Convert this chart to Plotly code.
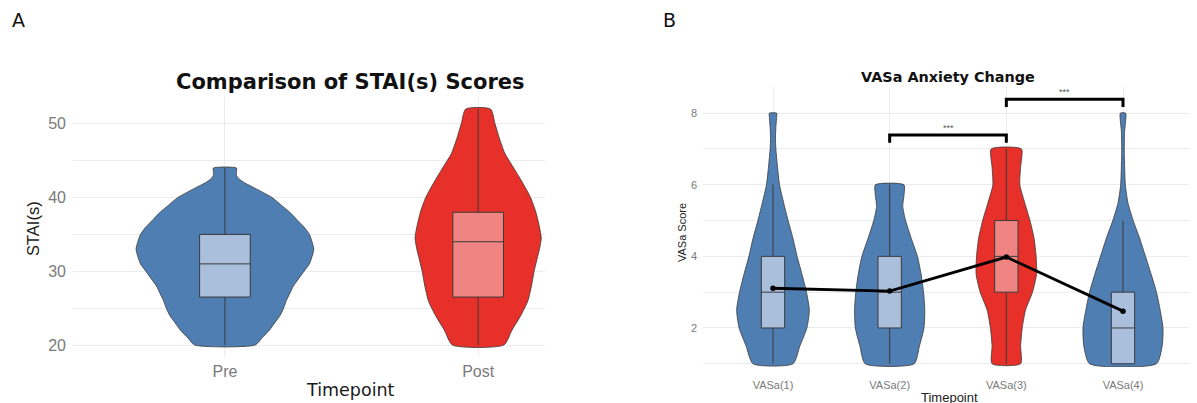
import plotly.graph_objects as go

# ---------------- DATA ----------------
# Panel A: STAI(s)
a_groups = ["Pre", "Post"]
a_pre_levels = [20, 21, 22, 23, 24, 25, 26, 27, 28, 29, 30, 31, 32, 33, 34, 35, 36, 37, 38, 39, 40, 41, 42, 42.5, 43, 43.5, 44]
a_pre_density = [0.34, 0.42, 0.50, 0.56, 0.62, 0.66, 0.69, 0.73, 0.77, 0.83, 0.89, 0.95, 0.98, 1.0, 0.98, 0.95, 0.89, 0.81, 0.73, 0.63, 0.53, 0.38, 0.22, 0.16, 0.13, 0.13, 0.13]
a_post_levels = [20, 22, 24, 26, 28, 30, 32, 33, 34.5, 36, 38, 40, 42, 44, 46, 48, 50, 52]
a_post_density = [0.29, 0.38, 0.48, 0.56, 0.60, 0.63, 0.67, 0.69, 0.71, 0.69, 0.65, 0.59, 0.50, 0.40, 0.30, 0.24, 0.19, 0.14]
a_q1 = [26.5, 26.5]
a_median = [31, 34]
a_q3 = [35, 38]
a_low = [20, 20]
a_high = [44, 52]

# Panel B: VASa
b_groups = ["VASa(1)", "VASa(2)", "VASa(3)", "VASa(4)"]
b1_levels = [1, 1.5, 2, 2.5, 3, 3.5, 4, 4.5, 5, 5.5, 6, 6.5, 7, 7.3, 7.6, 7.9, 8]
b1_density = [0.49, 0.66, 0.83, 0.89, 0.82, 0.71, 0.59, 0.49, 0.37, 0.26, 0.16, 0.11, 0.07, 0.06, 0.07, 0.09, 0.09]
b2_levels = [1, 1.5, 2, 2.5, 3, 3.5, 4, 4.5, 5, 5.4, 5.7, 6]
b2_density = [0.60, 0.73, 0.84, 0.86, 0.83, 0.77, 0.68, 0.53, 0.39, 0.32, 0.35, 0.35]
b3_levels = [1, 1.5, 2, 2.5, 3, 3.5, 4, 4.5, 5, 5.5, 6, 6.5, 7]
b3_density = [0.35, 0.35, 0.39, 0.47, 0.64, 0.74, 0.73, 0.68, 0.58, 0.45, 0.33, 0.35, 0.37]
b4_levels = [1, 1.5, 2, 2.5, 3, 3.5, 4, 4.5, 5, 5.5, 6, 6.5, 7, 7.5, 7.8, 8]
b4_density = [0.82, 0.96, 0.98, 0.91, 0.82, 0.69, 0.55, 0.41, 0.25, 0.12, 0.057, 0.04, 0.031, 0.04, 0.066, 0.066]
b_q1 = [2, 2, 3, 1]
b_median = [3, 3, 4, 2]
b_q3 = [4, 4, 5, 3]
b_low = [1, 1, 1, 1]
b_high = [6, 6, 7, 5]
b_mean = [3.11, 3.03, 3.98, 2.47]
b_brackets = [(2, 3), (3, 4)]
b_bracket_y = [7.39, 8.39]
b_bracket_labels = ["***", "***"]

# ---------------- STYLE ----------------
BLUE = "#4F7EB3"
RED = "#E8302A"
LBLUE = "#A9BFDC"
LRED = "#F08482"
EDGE = "#3a3a3a"
GRID = "#ECECEC"
FONT = "Liberation Sans"
WIDE = "DejaVu Sans"
W, H = 1197, 403
OFF = 8  # page body margin

fig = go.Figure()


def violin(xa, ya, c, levels, dens, scale, color):
    xs = [c + scale * d for d in dens] + [c - scale * d for d in reversed(dens)]
    ys = list(levels) + list(reversed(levels))
    xs.append(xs[0]); ys.append(ys[0])
    fig.add_trace(go.Scatter(x=xs, y=ys, xaxis=xa, yaxis=ya, mode="lines", fill="toself",
                             fillcolor=color, line=dict(color=EDGE, width=0.8, shape="spline", smoothing=0.6),
                             hoverinfo="skip", showlegend=False, zorder=0))


def box(xa, ya, c, q1, med, q3, lo, hi, fill):
    fig.add_trace(go.Box(x=[c], q1=[q1], median=[med], q3=[q3], lowerfence=[lo], upperfence=[hi],
                         xaxis=xa, yaxis=ya, width=0.2, fillcolor=fill, whiskerwidth=0,
                         line=dict(color=EDGE, width=1), boxpoints=False, showlegend=False,
                         hoverinfo="skip", zorder=1))


# Panel A
violin("x", "y", 1, a_pre_levels, a_pre_density, 0.351, BLUE)
violin("x", "y", 2, a_post_levels, a_post_density, 0.351, RED)
a_fill = [LBLUE, LRED]
for i in range(2):
    box("x", "y", i + 1, a_q1[i], a_median[i], a_q3[i], a_low[i], a_high[i], a_fill[i])

# Panel B
b_prof = [(b1_levels, b1_density), (b2_levels, b2_density), (b3_levels, b3_density), (b4_levels, b4_density)]
b_col = [BLUE, BLUE, RED, BLUE]
b_fill = [LBLUE, LBLUE, LRED, LBLUE]
for i, (lv, dn) in enumerate(b_prof):
    violin("x2", "y2", i + 1, lv, dn, 0.35, b_col[i])
for i in range(4):
    box("x2", "y2", i + 1, b_q1[i], b_median[i], b_q3[i], b_low[i], b_high[i], b_fill[i])

fig.add_trace(go.Scatter(x=[1, 2, 3, 4], y=b_mean, xaxis="x2", yaxis="y2", mode="lines+markers",
                         line=dict(color="black", width=2.8), marker=dict(color="black", size=5.5),
                         hoverinfo="skip", showlegend=False, zorder=2))

for (g1, g2), yb, lab in zip(b_brackets, b_bracket_y, b_bracket_labels):
    drop = 0.22
    fig.add_trace(go.Scatter(x=[g1, g1, g2, g2], y=[yb - drop, yb, yb, yb - drop], xaxis="x2", yaxis="y2",
                             mode="lines", line=dict(color="black", width=3),
                             hoverinfo="skip", showlegend=False, zorder=2))
    fig.add_annotation(x=(g1 + g2) / 2, y=yb + 0.19, xref="x2", yref="y2", text=lab, showarrow=False,
                       font=dict(family=FONT, size=9, color="#555"))

# ---------------- LAYOUT ----------------
def px(xp):
    return (xp - OFF) / W


def py(yp):
    return 1 - (yp - OFF) / H


fig.update_layout(
    width=W, height=H, margin=dict(l=0, r=0, t=0, b=0),
    paper_bgcolor="white", plot_bgcolor="white",
    font=dict(family=FONT),
    xaxis=dict(domain=[px(73), px(545)], range=[0.4, 2.264], tickvals=[1, 2], ticktext=a_groups,
               showgrid=True, gridcolor=GRID, gridwidth=1, zeroline=False, showline=False, ticks="",
               tickfont=dict(size=16, color="#7a7a7a"), ticklabelstandoff=3, anchor="y"),
    yaxis=dict(domain=[py(356.8), py(97.2)], range=[18.4, 53.6], tick0=0, dtick=10,
               showgrid=True, gridcolor=GRID, gridwidth=1, zeroline=False, showline=False, ticks="",
               tickfont=dict(size=16, color="#7a7a7a"), ticklabelstandoff=6, anchor="x",
               minor=dict(dtick=5, tick0=0, showgrid=True, gridcolor=GRID, gridwidth=1)),
    xaxis2=dict(domain=[px(703), px(1193)], range=[0.4, 4.6], tickvals=[1, 2, 3, 4], ticktext=b_groups,
                showgrid=True, gridcolor=GRID, gridwidth=1, zeroline=False, showline=False, ticks="",
                tickfont=dict(size=11, color="#7a7a7a"), ticklabelstandoff=10, anchor="y2"),
    yaxis2=dict(domain=[py(367), py(87)], range=[0.91, 8.73], tick0=0, dtick=2,
                showgrid=True, gridcolor=GRID, gridwidth=1, zeroline=False, showline=False, ticks="",
                tickfont=dict(size=11, color="#7a7a7a"), ticklabelstandoff=5, anchor="x2",
                minor=dict(dtick=1, tick0=0, showgrid=True, gridcolor=GRID, gridwidth=1)),
)


def label(text, x, y, size, color="#1a1a1a", bold=False, angle=0, family=FONT):
    t = f"<b>{text}</b>" if bold else text
    fig.add_annotation(x=px(x), y=py(y), xref="paper", yref="paper", text=t, showarrow=False,
                       textangle=angle, xanchor="center", yanchor="middle",
                       font=dict(family=family, size=size, color=color))


label("A", 18, 20, 19, color="#111", family=WIDE)
label("B", 669, 20, 19, color="#111", family=WIDE)
label("Comparison of STAI(s) Scores", 350, 82, 21, color="#111", bold=True, family=WIDE)
label("VASa Anxiety Change", 948, 77, 14.4, color="#111", bold=True, family=WIDE)
label("STAI(s)", 33, 229, 16.5, color="#1a1a1a", angle=-90)
label("Timepoint", 350, 390, 17.5, color="#1a1a1a", family=WIDE)
label("VASa Score", 682, 233, 11, color="#222", angle=-90)
label("Timepoint", 949, 397, 13, color="#222")

fig.write_html("out.html")
